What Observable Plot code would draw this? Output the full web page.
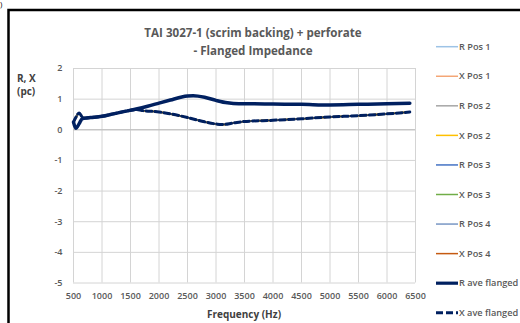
<!DOCTYPE html>
<html><head><meta charset="utf-8">
<script src="https://cdn.jsdelivr.net/npm/d3@7"></script>
<script src="https://cdn.jsdelivr.net/npm/@observablehq/plot@0.6"></script>
<style>
body{margin:0;background:#fff}
#chart{width:520px;height:323px;position:relative;overflow:hidden;background:#fff}
</style>
</head><body><div id="chart"></div><script>
// ---- data ----
const xTicks = [500,1000,1500,2000,2500,3000,3500,4000,4500,5000,5500,6000,6500];
const yTicks = [-5,-4,-3,-2,-1,0,1,2];

const freqR = [500,540,600,650,700,800,1000,1200,1400,1600,1800,2000,2200,2400,2500,2600,2800,3000,3200,3400,3600,4000,4500,5000,5500,6000,6400];
const rAve  = [0.25,0.05,0.20,0.36,0.38,0.40,0.44,0.52,0.60,0.68,0.77,0.87,0.97,1.07,1.10,1.11,1.06,0.96,0.88,0.85,0.85,0.84,0.83,0.81,0.83,0.85,0.87];

const freqX = [500,540,600,650,700,800,1000,1200,1400,1600,1700,2000,2200,2500,2800,3000,3100,3300,3500,4000,4500,5000,5500,6000,6400];
const xAve  = [0.25,0.40,0.55,0.42,0.38,0.40,0.44,0.52,0.60,0.66,0.63,0.58,0.52,0.40,0.26,0.19,0.17,0.22,0.27,0.31,0.36,0.42,0.46,0.52,0.58];

const seriesNames  = ["R Pos 1","X Pos 1","R Pos 2","X Pos 2","R Pos 3","X Pos 3","R Pos 4","X Pos 4","R ave flanged","X ave flanged"];
const seriesColors = ["#9dc3e6","#f4a676","#a5a5a5","#ffc000","#4472c4","#70ad47","#7896c4","#c55a11","#002060","#002060"];

const titleLines  = ["TAI 3027-1 (scrim backing) + perforate","- Flanged Impedance"];
const yLabelLines = ["R, X","(pc)"];
const xLabel = "Frequency (Hz)";

// ---- build ----
const toRows = (f, v) => f.map((d, i) => ({f: d, v: v[i]}));
const R = toRows(freqR, rAve);
const X = toRows(freqX, xAve);

const thin = (data, c) => Plot.line(data, {x: "f", y: "v", stroke: c, strokeWidth: 1.6, curve: "monotone-x"});

const marks = [
  Plot.ruleX(xTicks, {stroke: "#d4d4d4", strokeWidth: 1}),
  Plot.ruleY(yTicks, {stroke: "#d4d4d4", strokeWidth: 1}),
  Plot.ruleY([0], {stroke: "#bdbdbd", strokeWidth: 1}),
  Plot.axisX({ticks: xTicks, tickSize: 0, tickPadding: 10, tickFormat: d => String(d), fill: "#595959"}),
  Plot.axisY({ticks: yTicks, tickSize: 0, tickPadding: 11, tickFormat: d => String(d), fill: "#595959"}),
  thin(R, seriesColors[0]),
  thin(R, seriesColors[2]),
  thin(R, seriesColors[4]),
  thin(R, seriesColors[6]),
  thin(X, seriesColors[7]),
  thin(X, seriesColors[5]),
  thin(X, seriesColors[1]),
  thin(X, seriesColors[3]),
  Plot.line(R, {x: "f", y: "v", stroke: seriesColors[8], strokeWidth: 3.5, curve: "monotone-x"}),
  Plot.line(X, {x: "f", y: "v", stroke: seriesColors[9], strokeWidth: 3, strokeDasharray: "6,3", curve: "monotone-x"})
];

const svgEl = Plot.plot({
  width: 520, height: 323,
  marginLeft: 73, marginRight: 105, marginTop: 68, marginBottom: 40.5,
  x: {domain: [500, 6500], label: null},
  y: {domain: [-5, 2], label: null},
  style: {fontFamily: "'Open Sans', sans-serif", fontSize: "9px", fontWeight: 600},
  marks
});
document.getElementById("chart").appendChild(svgEl);

const svg = d3.select(svgEl);
const F = "'Open Sans', sans-serif";

// frame border
svg.append("path").attr("d", "M8.5,330V10H530").attr("fill", "none").attr("stroke", "#000").attr("stroke-width", 2.5);
svg.append("text").attr("x", 0).attr("y", 7).attr("text-anchor", "start").attr("font-family", F).attr("font-size", 8).attr("font-weight", 400).attr("fill", "#000").text(")");

// title
titleLines.forEach((t, i) => {
  svg.append("text").attr("x", 253).attr("y", 33.3 + i * 17.4).attr("dy", "0.35em")
    .attr("text-anchor", "middle").attr("font-family", F).attr("font-size", 11.6).attr("font-weight", 700)
    .attr("fill", "#595959").text(t);
});

// y label
yLabelLines.forEach((t, i) => {
  svg.append("text").attr("x", 17).attr("y", 78.3 + i * 12.7).attr("dy", "0.35em")
    .attr("text-anchor", "start").attr("font-family", F).attr("font-size", 10).attr("font-weight", 700)
    .attr("fill", "#404040").text(t);
});

// x label
svg.append("text").attr("x", 244).attr("y", 314).attr("dy", "0.35em")
  .attr("text-anchor", "middle").attr("font-family", F).attr("font-size", 10).attr("font-weight", 700)
  .attr("fill", "#404040").text(xLabel);

// legend
seriesNames.forEach((name, i) => {
  const y = 46.7 + i * 29.56;
  const big = i >= 8;
  svg.append("line").attr("x1", 436).attr("x2", 458).attr("y1", y).attr("y2", y)
    .attr("stroke", seriesColors[i]).attr("stroke-width", big ? 3.2 : 1.5)
    .attr("stroke-dasharray", i === 9 ? "7,3" : null);
  svg.append("text").attr("x", 459).attr("y", y).attr("dy", "0.35em")
    .attr("text-anchor", "start").attr("font-family", F).attr("font-size", 9.2).attr("font-weight", 600)
    .attr("fill", "#595959").text(name);
});
</script></body></html>
